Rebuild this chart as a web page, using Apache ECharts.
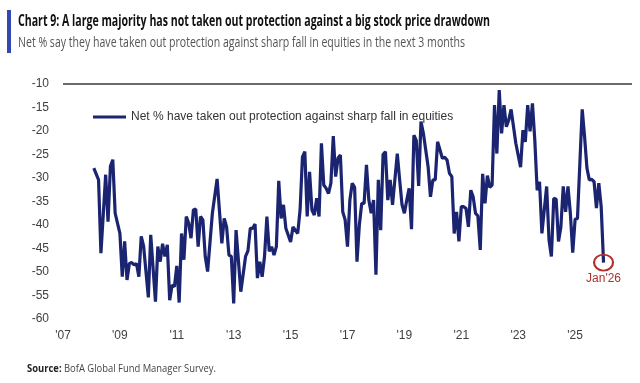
<!DOCTYPE html>
<html><head><meta charset="utf-8">
<script src="https://cdn.jsdelivr.net/npm/echarts@6/dist/echarts.min.js"></script>
<style>html,body{margin:0;padding:0;background:#fff}#c{width:640px;height:383px}</style>
</head><body><div id="c"></div>
<script>
const titleText = "Chart 9: A large majority has not taken out protection against a big stock price drawdown";
const subtitleText = "Net % say they have taken out protection against sharp fall in equities in the next 3 months";
const sourceBold = "Source:";
const sourceRest = " BofA Global Fund Manager Survey.";
const seriesName = "Net % have taken out protection against sharp fall in equities";
const lastLabel = "Jan'26";

const months = [
"2008-02","2008-04","2008-05","2008-07","2008-08","2008-09","2008-10","2008-11",
"2009-01","2009-02","2009-03","2009-04","2009-05","2009-06","2009-07","2009-08","2009-09","2009-10","2009-11",
"2010-01","2010-02","2010-04","2010-05","2010-06","2010-07","2010-08","2010-09","2010-10","2010-11","2010-12",
"2011-01","2011-02","2011-03","2011-04","2011-05","2011-06","2011-07","2011-08","2011-09","2011-10","2011-11","2011-12",
"2012-01","2012-02","2012-04","2012-06","2012-08","2012-09","2012-10","2012-11","2012-12",
"2013-01","2013-02","2013-04","2013-06","2013-07","2013-08","2013-09","2013-10","2013-11","2013-12",
"2014-01","2014-02","2014-03","2014-04","2014-05","2014-06","2014-07","2014-08","2014-09","2014-10","2014-11",
"2015-01","2015-02","2015-04","2015-05","2015-06","2015-07","2015-08","2015-09","2015-10","2015-11","2015-12",
"2016-01","2016-02","2016-03","2016-04","2016-05","2016-06","2016-07","2016-08","2016-09","2016-10","2016-11","2016-12",
"2017-01","2017-02","2017-03","2017-04","2017-05","2017-06","2017-07","2017-08","2017-09","2017-10","2017-11","2017-12",
"2018-01","2018-02","2018-03","2018-04","2018-05","2018-06","2018-07","2018-08","2018-10","2018-11","2018-12",
"2019-01","2019-02","2019-03","2019-04","2019-05","2019-06","2019-07","2019-08","2019-09","2019-11","2019-12",
"2020-01","2020-02","2020-03","2020-04","2020-05","2020-06","2020-07","2020-08","2020-09","2020-10","2020-11","2020-12",
"2021-01","2021-02","2021-03","2021-04","2021-05","2021-06","2021-07","2021-08","2021-09","2021-10","2021-11","2021-12",
"2022-01","2022-02","2022-03","2022-04","2022-05","2022-06","2022-07","2022-08","2022-09","2022-10","2022-12",
"2023-02","2023-03","2023-04","2023-05","2023-06","2023-07","2023-08","2023-09","2023-10","2023-11",
"2024-01","2024-02","2024-03","2024-04","2024-05","2024-06","2024-07","2024-08","2024-09","2024-10","2024-11","2024-12",
"2025-01","2025-02","2025-04","2025-05","2025-06","2025-07","2025-08","2025-09","2025-10","2025-11","2025-12",
"2026-01"
];
const values = [
-27.9,-30.4,-46.0,-29.3,-39.3,-27.5,-26.1,-37.5,
-41.8,-51.0,-43.5,-51.7,-48.2,-48.0,-48.5,-48.2,-51.0,-42.4,-44.5,
-55.4,-42.1,-56.3,-44.6,-47.8,-44.0,-46.7,-44.2,-56.0,-52.8,-53.1,
-48.7,-56.5,-41.8,-47.4,-38.2,-39.6,-42.8,-36.8,-36.6,-44.6,-38.2,-38.9,
-46.7,-49.9,-37.5,-30.2,-43.9,-38.6,-40.4,-46.4,-46.7,
-56.7,-41.1,-54.2,-46.7,-45.5,-40.7,-40.7,-39.8,-51.3,-47.8,
-51.0,-46.7,-38.2,-45.6,-44.6,-46.4,-44.6,-30.6,-38.6,-35.7,-40.7,
-43.6,-40.4,-41.8,-36.8,-25.5,-24.4,-38.2,-28.7,-36.8,-37.9,-34.3,
-38.2,-22.6,-31.5,-32.2,-33.3,-31.1,-21.1,-29.7,-25.8,-25.1,-37.2,-38.9,
-44.6,-34.7,-31.1,-32.0,-47.8,-40.0,-35.4,-35.4,-27.2,-34.7,-37.5,-34.7,
-50.6,-30.4,-41.1,-25.0,-24.4,-34.7,-30.4,-35.7,-24.8,-30.4,-35.7,
-37.5,-34.7,-32.2,-40.9,-20.9,-22.0,-31.7,-18.0,-20.5,-27.6,-34.0,
-30.4,-30.4,-22.3,-24.0,-25.8,-25.6,-26.2,-29.0,-29.7,-41.8,-37.2,-43.5,
-36.1,-36.1,-36.5,-40.4,-32.6,-34.0,-37.5,-38.1,-45.3,-29.1,-35.4,-29.5,
-32.0,-31.5,-14.5,-24.8,-11.3,-20.5,-14.5,-19.1,-17.7,-15.4,-22.6,
-27.7,-19.8,-22.3,-14.5,-20.1,-14.1,-21.9,-32.6,-30.8,-41.8,
-31.8,-43.2,-46.7,-34.3,-34.5,-43.5,-40.4,-31.8,-37.2,-31.8,-37.5,-45.9,
-38.8,-38.6,-15.4,-21.2,-27.9,-30.4,-30.3,-30.8,-36.4,-31.1,-36.1,
-48.0
];
const xMin = 2007, xMax = 2027, yMin = -60, yMax = -10, yStep = 5;

function toYear(s){ const p = s.split('-').map(Number); return p[0] + (p[1]-1)/12; }
const seriesData = months.map((m,i)=>[toYear(m), values[i]]);
const lastPoint = seriesData[seriesData.length-1];

const mctx = document.createElement('canvas').getContext('2d');
function textW(t, font){ mctx.font = font; return mctx.measureText(t).width; }

const tFont = 'bold 16px "Open Sans"';
const sFont = '15px "Open Sans"';
const srcBFont = 'bold 11px "Open Sans"';
const srcFont = '11px "Open Sans"';
const tScale = 472 / textW(titleText, tFont);
const sScale = 447 / textW(subtitleText, sFont);
const srcTotal = textW(sourceBold, srcBFont) + textW(sourceRest, srcFont);
const srcScale = 189 / srcTotal;
const srcBW = textW(sourceBold, srcBFont) * srcScale;

const gridBox = {left:63, right:8, top:84, bottom:64};
const navy = '#1b2470';
const red = '#b0302f';
const chart = echarts.init(document.getElementById('c'), null, {renderer:'canvas'});
chart.setOption({
  animation:false,
  backgroundColor:'#fff',
  grid:Object.assign({outerBoundsMode:'none', containLabel:false}, gridBox),
  legend:{
    left:88, top:106, icon:'rect', itemWidth:33, itemHeight:3, itemGap:5,
    textStyle:{fontSize:12, color:'#333', fontFamily:'Liberation Sans'},
    data:[seriesName]
  },
  xAxis:{
    type:'value', min:xMin, max:xMax, interval:2,
    axisLine:{show:false}, axisTick:{show:false}, splitLine:{show:false},
    axisLabel:{formatter:v=> v>=xMax ? '' : "'"+String(v).slice(2), fontSize:12, color:'#404040', fontFamily:'Liberation Sans', margin:11}
  },
  yAxis:{
    type:'value', min:yMin, max:yMax, interval:yStep,
    axisLine:{show:false}, axisTick:{show:false}, splitLine:{show:false},
    axisLabel:{fontSize:12, color:'#404040', fontFamily:'Liberation Sans', margin:14}
  },
  series:[{
    name:seriesName, type:'line', data:seriesData, showSymbol:false,
    lineStyle:{color:navy, width:3.2}, itemStyle:{color:navy},
    markPoint:{
      silent:true,
      data:[{
        coord:lastPoint, symbol:'circle', symbolSize:[19,16],
        itemStyle:{color:'rgba(0,0,0,0)', borderColor:red, borderWidth:2},
        label:{show:true, position:'bottom', distance:1, formatter:lastLabel, color:red, fontSize:12, fontFamily:'Liberation Sans'}
      }]
    }
  }],
  graphic:[
    {type:'rect', x:7, y:10, shape:{x:0,y:0,width:4,height:43}, style:{fill:'#3347b0'}},
    {type:'rect', z:50, x:gridBox.left, y:gridBox.top - 1, shape:{x:0, y:0, width:640 - gridBox.left - gridBox.right, height:2}, style:{fill:'#6a6a6a'}},
    {type:'text', x:18, y:21, scaleX:tScale, style:{text:titleText, font:tFont, fill:'#111', verticalAlign:'middle'}},
    {type:'text', x:18, y:43, scaleX:sScale, style:{text:subtitleText, font:sFont, fill:'#555', verticalAlign:'middle'}},
    {type:'text', x:27, y:369, scaleX:srcScale, style:{text:sourceBold, font:srcBFont, fill:'#222', verticalAlign:'middle'}},
    {type:'text', x:27+srcBW, y:369, scaleX:srcScale, style:{text:sourceRest, font:srcFont, fill:'#444', verticalAlign:'middle'}}
  ]
});
</script></body></html>
